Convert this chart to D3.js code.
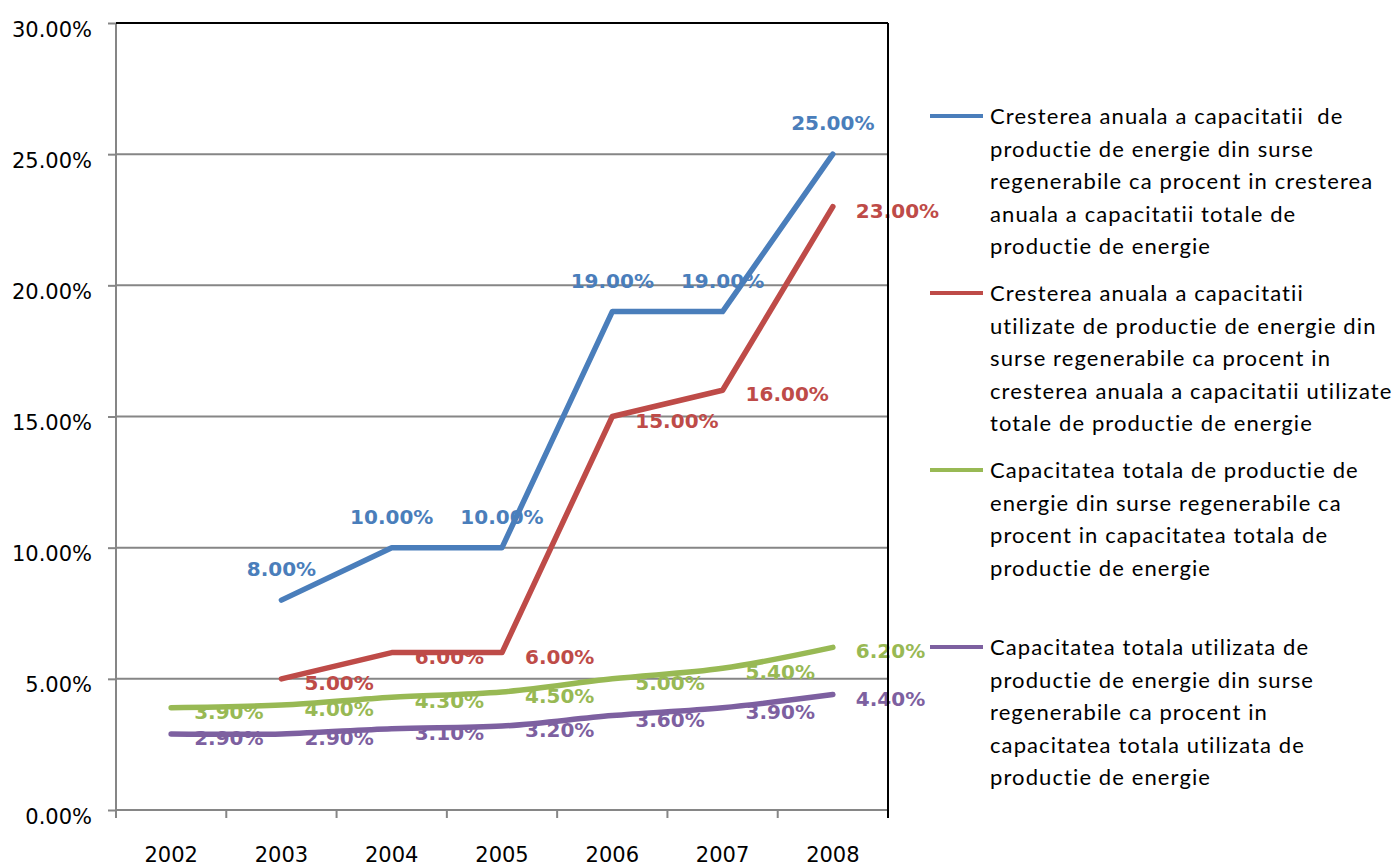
<!DOCTYPE html>
<html>
<head>
<meta charset="utf-8">
<script src="https://cdn.jsdelivr.net/npm/d3@7"></script>
<style>
  body { margin: 0; background: #ffffff; }
  svg { display: block; }
  .axis text { font-family: "DejaVu Sans", sans-serif; font-size: 21px; fill: #000000; }
  .label { font-family: "DejaVu Sans", sans-serif; font-size: 20px; font-weight: bold; }
  .legend text {
    font-family: Lato, "Noto Sans", sans-serif;
    font-size: 22px;
    letter-spacing: 1.1px;
    font-variant-ligatures: none;
    fill: #000000;
  }
</style>
</head>
<body>
<svg></svg>
<script>
// chart values
let years = ['2002', '2003', '2004', '2005', '2006', '2007', '2008'];

let growthTotal   = [null, 0.08, 0.10, 0.10, 0.19, 0.19, 0.25];
let growthUsed    = [null, 0.05, 0.06, 0.06, 0.15, 0.16, 0.23];
let shareTotal    = [0.039, 0.040, 0.043, 0.045, 0.050, 0.054, 0.062];
let shareUsed     = [0.029, 0.029, 0.031, 0.032, 0.036, 0.039, 0.044];

let yTicks = [0, 0.05, 0.10, 0.15, 0.20, 0.25, 0.30];

let legendNames = [
  ['Cresterea anuala a capacitatii  de', 'productie de energie din surse',
   'regenerabile ca procent in cresterea', 'anuala a capacitatii totale de',
   'productie de energie'],
  ['Cresterea anuala a capacitatii', 'utilizate de productie de energie din',
   'surse regenerabile ca procent in', 'cresterea anuala a capacitatii utilizate',
   'totale de productie de energie'],
  ['Capacitatea totala de productie de', 'energie din surse regenerabile ca',
   'procent in capacitatea totala de', 'productie de energie'],
  ['Capacitatea totala utilizata de', 'productie de energie din surse',
   'regenerabile ca procent in', 'capacitatea totala utilizata de',
   'productie de energie']
];

// configuration of svg/plot area
let config = {
  'svg': {},
  'margin': {},
  'plot': {},
  'legend': {}
};

config.svg.width = 1396;
config.svg.height = 866;

config.margin.top = 23;
config.margin.left = 116;
config.margin.right = 1396 - 888;
config.margin.bottom = 866 - 810;

config.plot.x = config.margin.left;
config.plot.y = config.margin.top;
config.plot.width = config.svg.width - config.margin.left - config.margin.right;
config.plot.height = config.svg.height - config.margin.top - config.margin.bottom;

config.legend.x = 930;
config.legend.y = 116;
config.legend.step = 177;
config.legend.line = 32.5;

// one entry per series, drawn in this order
let series = [
  { values: growthTotal, color: '#4a7ebb', curve: d3.curveLinear, place: 'above' },
  { values: growthUsed,  color: '#be4b48', curve: d3.curveLinear, place: 'right' },
  { values: shareTotal,  color: '#98b954', curve: d3.curveCatmullRom, place: 'right' },
  { values: shareUsed,   color: '#7d60a0', curve: d3.curveCatmullRom, place: 'right' }
];

// setup svg
let svg = d3.select('body').select('svg');
svg.attr('width', config.svg.width);
svg.attr('height', config.svg.height);

let plot = svg.append('g');
plot.attr('id', 'plot');
plot.attr('transform', translate(config.plot.x, config.plot.y));

// scales for data
let scale = {};

scale.x = d3.scaleBand();
scale.x.domain(years);
scale.x.range([0, config.plot.width]);
scale.x.padding(0);

scale.y = d3.scaleLinear();
scale.y.domain([0, 0.30]);
scale.y.range([config.plot.height, 0]);

let axis = {};
axis.y = d3.axisLeft(scale.y);
axis.y.tickValues(yTicks);
axis.y.tickFormat(d3.format('.2%'));
axis.y.tickSize(8);
axis.y.tickPadding(16);

axis.x = d3.axisBottom(scale.x);
axis.x.tickSize(0);
axis.x.tickPadding(37);

// gridlines
let grid = plot.append('g');
grid.attr('id', 'grid');
grid.selectAll('line')
  .data(yTicks.slice(1, -1))
  .enter()
  .append('line')
  .attr('x1', 0)
  .attr('x2', config.plot.width)
  .attr('y1', d => scale.y(d))
  .attr('y2', d => scale.y(d))
  .style('stroke', '#868686')
  .style('stroke-width', 2);

// y axis
let gy = plot.append('g');
gy.attr('id', 'y-axis');
gy.attr('class', 'axis');
gy.call(axis.y);
gy.select('.domain').remove();
gy.selectAll('.tick line').style('stroke', '#868686').style('stroke-width', 2);
gy.selectAll('.tick text').attr('dy', '0.62em');

// x axis labels at band centres
let gx = plot.append('g');
gx.attr('id', 'x-axis');
gx.attr('class', 'axis');
gx.attr('transform', translate(0, config.plot.height));
gx.call(axis.x);
gx.select('.domain').remove();

// x tick marks sit on the band edges
let edges = years.map(d => scale.x(d)).concat([config.plot.width]);
gx.selectAll('line.edge')
  .data(edges)
  .enter()
  .append('line')
  .attr('class', 'edge')
  .attr('x1', d => d)
  .attr('x2', d => d)
  .attr('y1', 0)
  .attr('y2', 8)
  .style('stroke', '#868686')
  .style('stroke-width', 2);

// axis lines
plot.append('line')
  .attr('x1', 0).attr('x2', 0)
  .attr('y1', 0).attr('y2', config.plot.height)
  .style('stroke', '#868686').style('stroke-width', 2);
plot.append('line')
  .attr('x1', 0).attr('x2', config.plot.width)
  .attr('y1', config.plot.height).attr('y2', config.plot.height)
  .style('stroke', '#868686').style('stroke-width', 2);

// the series lines
let cx = d => scale.x(d.year) + scale.x.bandwidth() / 2;

series.forEach(function(s) {
  s.points = years.map((y, i) => ({ year: y, value: s.values[i] }))
    .filter(d => d.value !== null);

  let line = d3.line()
    .x(cx)
    .y(d => scale.y(d.value))
    .curve(s.curve);

  plot.append('path')
    .datum(s.points)
    .attr('d', line)
    .style('fill', 'none')
    .style('stroke', s.color)
    .style('stroke-width', 5.5)
    .style('stroke-linecap', 'round')
    .style('stroke-linejoin', 'round');
});

// data labels
series.forEach(function(s) {
  let labels = plot.append('g').selectAll('text')
    .data(s.points)
    .enter()
    .append('text')
    .attr('class', 'label')
    .style('fill', s.color)
    .text(d => d3.format('.2%')(d.value));

  if (s.place === 'above') {
    labels.attr('x', cx)
      .attr('y', d => scale.y(d.value) - 24)
      .style('text-anchor', 'middle');
  } else {
    labels.attr('x', d => cx(d) + 23)
      .attr('y', d => scale.y(d.value) + 11)
      .style('text-anchor', 'start');
  }
});

// top and right border of the plot area
plot.append('line')
  .attr('x1', 0).attr('x2', config.plot.width)
  .attr('y1', 0).attr('y2', 0)
  .style('stroke', '#000000').style('stroke-width', 2);
plot.append('line')
  .attr('x1', config.plot.width).attr('x2', config.plot.width)
  .attr('y1', 0).attr('y2', config.plot.height + 8)
  .style('stroke', '#000000').style('stroke-width', 2);

// legend
let legend = svg.append('g');
legend.attr('class', 'legend');
legend.attr('transform', translate(config.legend.x, config.legend.y));

let entries = legend.selectAll('g.entry')
  .data(series)
  .enter()
  .append('g')
  .attr('class', 'entry')
  .attr('transform', (d, i) => translate(0, i * config.legend.step));

entries.append('line')
  .attr('x1', 0).attr('x2', 53)
  .attr('y1', 0).attr('y2', 0)
  .style('stroke', d => d.color)
  .style('stroke-width', 4);

entries.each(function(d, i) {
  let text = d3.select(this).append('text')
    .attr('x', 60)
    .attr('y', 8);

  text.selectAll('tspan')
    .data(legendNames[i])
    .enter()
    .append('tspan')
    .attr('x', 60)
    .attr('y', (t, j) => 8 + j * config.legend.line)
    .style('white-space', 'pre')
    .text(t => t);
});

// helper method to make translating easier
function translate(x, y) {
  return 'translate(' + x + ',' + y + ')';
}
</script>
</body>
</html>
